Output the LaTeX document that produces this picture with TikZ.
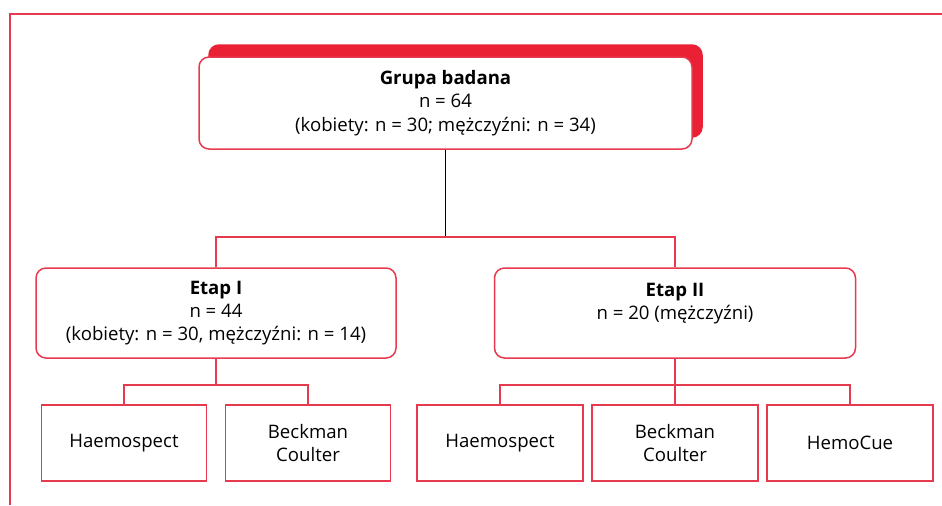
\documentclass[tikz,border=0pt]{standalone}
\usepackage{fontspec}
\setmainfont{Open Sans}
\definecolor{ared}{RGB}{234,32,52}
\definecolor{aline}{RGB}{232,58,78}
\begin{document}
\begin{tikzpicture}[x=0.5pt, y=-0.5pt, line width=0.75pt,
		box/.style={draw=aline, fill=white, align=center, inner sep=0pt, font=\fontsize{9.3}{11.6}\selectfont},
		rbox/.style={box, rounded corners=5pt},
		link/.style={draw=aline}]
	\useasboundingbox (0,0) rectangle (942,505);
	% frame
	\draw[aline] (942,14) -- (10,14) -- (10,505);
	% top group with red shadow
	\node[rbox, fill=ared, draw=ared, minimum width=246.5pt, minimum height=46pt] (shadow) at (455.5,91) {};
	\node[rbox, minimum width=246.5pt, minimum height=46pt] (group) at (445.5,103)
		{\textbf{Grupa badana}\\ n = 64\\ (kobiety: n = 30; mężczyźni: n = 34)};
	% stages
	\node[rbox, minimum width=180pt, minimum height=45pt] (stage1) at (216,313)
		{\textbf{Etap I}\\ n = 44\\ (kobiety: n = 30, mężczyźni: n = 14)};
	\node[rbox, minimum width=180.5pt, minimum height=45pt] (stage2) at (675,313)
		{\textbf{Etap II}\\ n = 20 (mężczyźni)\\ \mbox{}};
	% devices
	\node[box, minimum width=82.5pt, minimum height=38pt] (dev1) at (124,443) {Haemospect};
	\node[box, minimum width=82.5pt, minimum height=38pt] (dev2) at (308,443) {Beckman\\ Coulter};
	\node[box, minimum width=83pt, minimum height=38pt] (dev3) at (500,443) {Haemospect};
	\node[box, minimum width=83pt, minimum height=38pt] (dev4) at (675,443) {Beckman\\ Coulter};
	\node[box, minimum width=83pt, minimum height=38pt] (dev5) at (850,443) {HemoCue};
	% connectors
	\coordinate (split0) at (445.5,237);
	\coordinate (split1) at (216,385);
	\coordinate (split2) at (675,385);
	\draw[black] (group.south) -- (split0);
	\draw[link] (stage1.north) |- (split0) -| (stage2.north);
	\draw[link] (stage1.south) -- (split1);
	\draw[link] (dev1.north) |- (split1) -| (dev2.north);
	\draw[link] (stage2.south) -- (dev4.north);
	\draw[link] (dev3.north) |- (split2) -| (dev5.north);
\end{tikzpicture}
\end{document}
